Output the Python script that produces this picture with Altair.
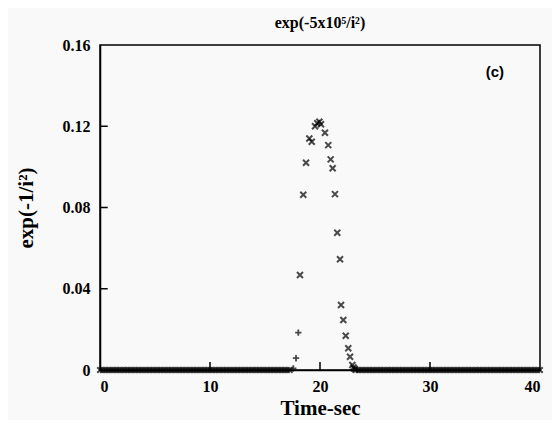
import altair as alt
import pandas as pd

# peak samples ("x" series)
peak_t = [18.18, 18.48, 18.73, 19.03, 19.25, 19.55, 19.75, 19.94, 20.09, 20.45, 20.75,
          20.97, 21.15, 21.36, 21.57, 21.82, 21.91, 22.12, 22.34, 22.57, 22.73, 22.94,
          23.05, 23.15]
peak_v = [0.0468, 0.0863, 0.102, 0.114, 0.1124, 0.120, 0.1215, 0.1222, 0.121, 0.1168, 0.1107,
          0.1037, 0.0993, 0.0866, 0.0676, 0.0545, 0.032, 0.0246, 0.0169, 0.0107, 0.0065, 0.0025,
          0.0012, 0.0005]
# "+" series
plus_t = [17.57, 17.82, 18.03]
plus_v = [0.0008, 0.0058, 0.0184]
# baseline samples (all zero) before and after the pulse
base_left_t = [i * 0.25 for i in range(0, 70)]
base_right_t = [23.25 + i * 0.25 for i in range(0, 68)]

x_ticks = [10, 20, 30]
y_ticks = [0.04, 0.08, 0.12]

xmark = "M-1,-1L1,1M-1,1L1,-1"
plusmark = "M-1,0L1,0M0,-1L0,1"

base = pd.DataFrame({"t": base_left_t + base_right_t,
                     "v": [0.0] * (len(base_left_t) + len(base_right_t))})
peak = pd.DataFrame({"t": peak_t, "v": peak_v})
plus = pd.DataFrame({"t": plus_t, "v": plus_v})

xs = alt.Scale(domain=[0, 40], nice=False, zero=False)
ys = alt.Scale(domain=[0, 0.16], nice=False)

FONT = "Liberation Serif"

xaxis = alt.Axis(values=[0, 10, 20, 30, 40], format="d", title="Time-sec",
                 tickSize=0, labelPadding=8, grid=False,
                 labelFont=FONT, labelFontSize=16, labelFontWeight="bold", labelColor="black",
                 titleFont=FONT, titleFontSize=21, titleFontWeight="bold", titleColor="black",
                 titlePadding=3, domainColor="black", domainWidth=1.5)
yaxis = alt.Axis(values=[0, 0.04, 0.08, 0.12, 0.16],
                 labelExpr="datum.value == 0 ? '0' : format(datum.value, '.2f')",
                 title="exp(-1/i²)", tickSize=0, labelPadding=10, grid=False,
                 labelFont=FONT, labelFontSize=16, labelFontWeight="bold", labelColor="black",
                 titleFont=FONT, titleFontSize=21, titleFontWeight="bold", titleColor="black",
                 titlePadding=26, domainColor="black", domainWidth=1.5)

pts_base = alt.Chart(base).mark_point(shape=xmark, size=30, strokeWidth=2, color="black", filled=False).encode(
    x=alt.X("t:Q", scale=xs, axis=xaxis),
    y=alt.Y("v:Q", scale=ys, axis=yaxis),
)
pts_peak = alt.Chart(peak).mark_point(shape=xmark, size=36, strokeWidth=2, color="black", filled=False).encode(
    x=alt.X("t:Q", scale=xs), y=alt.Y("v:Q", scale=ys))
pts_plus = alt.Chart(plus).mark_point(shape=plusmark, size=40, strokeWidth=1.8, color="black", filled=False).encode(
    x=alt.X("t:Q", scale=xs), y=alt.Y("v:Q", scale=ys))

xt = pd.DataFrame({"t": x_ticks, "y0": [0.0] * 3, "y1": [0.004] * 3})
yt = pd.DataFrame({"v": y_ticks, "x0": [0.0] * 3, "x1": [0.7] * 3})
xtick_rules = alt.Chart(xt).mark_rule(color="black", strokeWidth=1.5).encode(
    x=alt.X("t:Q", scale=xs), y=alt.Y("y0:Q", scale=ys), y2="y1:Q")
ytick_rules = alt.Chart(yt).mark_rule(color="black", strokeWidth=1.5).encode(
    y=alt.Y("v:Q", scale=ys), x=alt.X("x0:Q", scale=xs), x2="x1:Q")

lab = pd.DataFrame({"t": [35.9], "v": [0.1465], "txt": ["(c)"]})
label = alt.Chart(lab).mark_text(font="Liberation Sans", fontWeight="bold", fontSize=15,
                                 color="black").encode(
    x=alt.X("t:Q", scale=xs), y=alt.Y("v:Q", scale=ys), text="txt:N")

chart = alt.layer(pts_base, pts_peak, pts_plus, xtick_rules, ytick_rules, label).properties(
    width=440, height=325,
    autosize=alt.AutoSizeParams(type="none"),
    padding={"left": 92, "top": 37, "right": 12, "bottom": 50},
    title=alt.TitleParams("exp(-5x10⁵/i²)", font=FONT, fontSize=16, fontWeight="bold",
                          color="black", offset=6, anchor="middle"),
    background="#f9f9f9",
).configure_view(stroke="black", strokeWidth=1.5)

chart.save("out.html", embed_options={"renderer": "svg", "actions": False})
